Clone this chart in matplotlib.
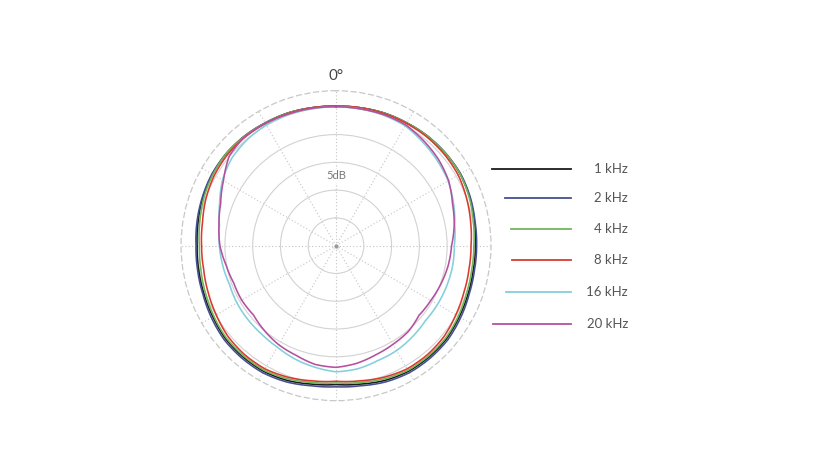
import numpy as np
import matplotlib
matplotlib.use("Agg")
import matplotlib.pyplot as plt
from matplotlib.lines import Line2D

plt.rcParams['font.family'] = ['Lato', 'DejaVu Sans']

# angle in degrees, clockwise from the front (0°)
angles = list(range(0, 360, 10))

# level in dB relative to on-axis, one value per angle
khz_1 = [0.1, 0.2, 0.4, 0.5, 0.7, 0.8, 0.8, 0.6, 0.3, 0.1, 0.1, 0.3,
         0.6, 1.0, 1.1, 1.1, 0.8, 0.3, 0.0, 0.3, 0.8, 1.1, 1.1, 1.0,
         0.6, 0.3, 0.1, 0.0, 0.2, 0.5, 0.7, 0.8, 0.7, 0.5, 0.4, 0.2]
khz_2 = [0.1, 0.2, 0.4, 0.5, 0.7, 0.8, 0.9, 0.7, 0.4, 0.3, 0.3, 0.5,
         0.9, 1.3, 1.4, 1.4, 1.1, 0.6, 0.4, 0.6, 1.1, 1.4, 1.4, 1.3,
         0.9, 0.5, 0.3, 0.2, 0.4, 0.6, 0.8, 0.8, 0.7, 0.5, 0.4, 0.2]
khz_4 = [0.1, 0.2, 0.4, 0.5, 0.7, 0.8, 0.8, 0.5, 0.1, -0.2, -0.2, 0.0,
         0.4, 0.8, 0.9, 0.9, 0.5, 0.0, -0.3, 0.0, 0.5, 0.9, 0.9, 0.8,
         0.4, 0.0, -0.3, -0.4, -0.1, 0.3, 0.6, 0.8, 0.7, 0.5, 0.4, 0.2]
khz_8 = [0.1, 0.2, 0.3, 0.4, 0.5, 0.5, 0.4, 0.0, -0.4, -0.7, -0.7, -0.5,
         -0.1, 0.4, 0.6, 0.6, 0.2, -0.3, -0.6, -0.3, 0.2, 0.6, 0.6, 0.4,
         -0.1, -0.5, -0.8, -0.8, -0.6, -0.1, 0.3, 0.5, 0.5, 0.4, 0.3, 0.2]
khz_16 = [0.0, 0.0, 0.0, -0.1, -0.7, -1.2, -1.7, -2.5, -3.3, -3.7, -3.7, -3.8,
          -3.9, -4.0, -3.6, -3.2, -3.0, -2.5, -2.3, -2.8, -3.3, -3.9, -4.2, -4.3,
          -4.4, -4.6, -4.3, -4.0, -3.7, -2.7, -1.4, -0.5, -0.1, 0.1, 0.1, 0.0]
khz_20 = [0.0, 0.0, 0.1, 0.1, -0.4, -0.9, -1.6, -2.7, -3.4, -4.2, -4.5, -4.9,
          -5.3, -5.5, -4.8, -4.5, -4.1, -3.5, -3.1, -3.3, -4.0, -4.4, -5.0, -5.6,
          -5.4, -5.4, -4.9, -4.1, -3.6, -2.9, -1.6, 0.1, 0.6, 0.4, 0.2, 0.1]

labels = ['1 kHz', '2 kHz', '4 kHz', '8 kHz', '16 kHz', '20 kHz']
colors = ['#1b1b1b', '#44508f', '#72b659', '#d93a30', '#83cfdc', '#b4509e']
series = [khz_1, khz_2, khz_4, khz_8, khz_16, khz_20]

fig = plt.figure(figsize=(8.24, 4.65), dpi=100)
ax = fig.add_axes([0.2197, 0.1383, 0.3762, 0.6667], projection='polar')
ax.set_theta_zero_location('N')
ax.set_theta_direction(-1)
ax.set_rlim(-25, 2.9)

ax.set_thetagrids(range(0, 360, 30), labels=[''] * 12)
ax.set_rgrids([-20, -15, -10, -5, 0], labels=[''] * 5)
ax.xaxis.grid(True, color='#c4c4c4', linestyle=(0, (1, 2)), linewidth=0.8)
ax.yaxis.grid(True, color='#d2d2d2', linestyle='-', linewidth=0.8)
ax.spines['polar'].set_color('#c8c8c8')
ax.spines['polar'].set_linestyle((0, (4, 3)))
ax.spines['polar'].set_linewidth(0.9)
ax.tick_params(length=0)

for vals, c in zip(series, colors):
    th = np.deg2rad(angles + [360])
    ln, = ax.plot(th, vals + [vals[0]], color=c, linewidth=1.15, zorder=3)
    # let the polar transform draw each segment as a curve
    ln.get_path()._interpolation_steps = 16

ax.plot([0], [-25], 'o', color='#999999', markersize=2, zorder=4)
ax.text(0, -12.4, '5dB', ha='center', va='center', fontsize=8, color='#777777',
        bbox=dict(boxstyle='square,pad=0.15', fc='white', ec='none'), zorder=2)
ax.text(0, 5.5, '0°', ha='center', va='center', fontsize=11, color='#444444',
        clip_on=False)

# legend drawn by hand, lines end at one x, text right aligned
leg_y = [169, 198.5, 229, 260, 292, 323.5]
line_x0 = [492, 505, 511, 512, 506, 493]
W, H = 824, 465
for y, x0, c, lab in zip(leg_y, line_x0, colors, labels):
    fig.add_artist(Line2D([x0 / W, 571 / W], [1 - y / H, 1 - y / H],
                          color=c, linewidth=1.3))
    fig.text(628 / W, 1 - y / H, lab, ha='right', va='center',
             fontsize=9.5, color='#555555')

fig.savefig('out.png', dpi=100)
